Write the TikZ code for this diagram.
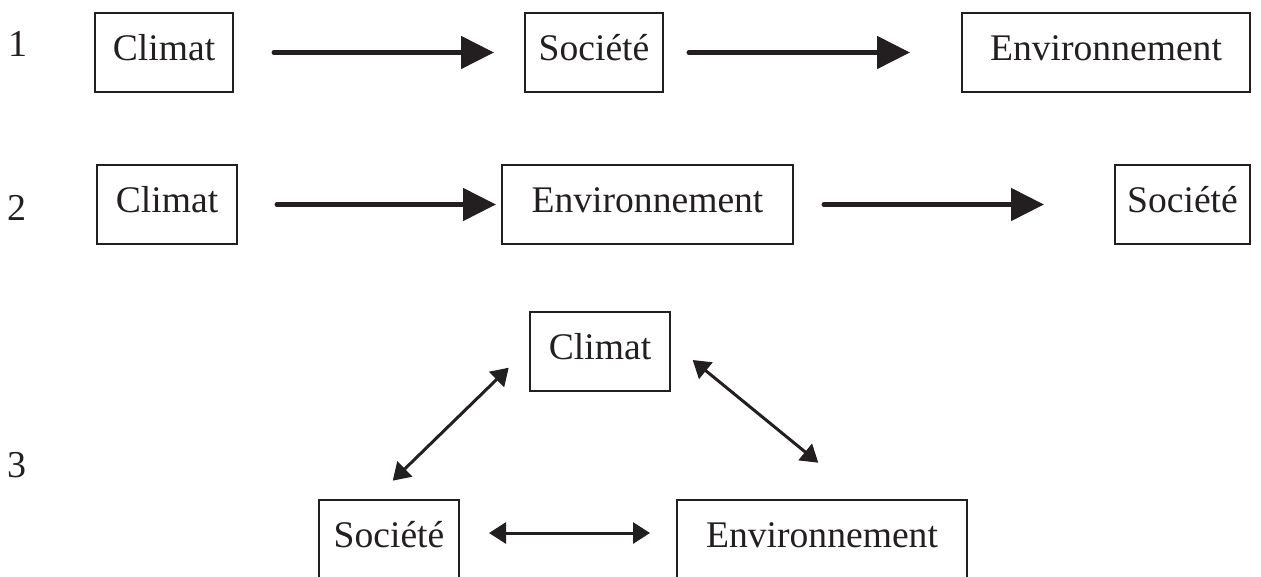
\documentclass[tikz,border=0pt]{standalone}
\usepackage{fontspec}
\setmainfont{Liberation Serif}
\usetikzlibrary{arrows.meta}
\definecolor{ink}{HTML}{231F20}
\begin{document}
\begin{tikzpicture}[x=0.5pt,y=-0.5pt,ink,
        main node/.style={draw,line width=1pt,minimum height=39.5pt,text height=13pt,text depth=5pt,inner sep=0pt,font=\fontsize{18.8}{22}\selectfont},
        row label/.style={font=\fontsize{19}{22}\selectfont},
        big arrow/.style={line width=2.5pt,line cap=round,-{Triangle[length=16.5pt,width=16pt]}},
        small arrow/.style={line width=1.5pt,{Triangle[length=8.5pt,width=10.5pt]}-{Triangle[length=8.5pt,width=10.5pt]}}]
        \useasboundingbox (0,0) rectangle (1261,577);
        \clip (0,0) rectangle (1261,577);

        \node[row label] at (18, 44) (l1) {1};
        \node[row label] at (17, 208) (l2) {2};
        \node[row label] at (17, 465) (l3) {3};

        % 1
        \node[main node,minimum width=69pt] at (164, 52.5) (c1) {Climat};
        \node[main node,minimum width=69pt] at (594, 52.5) (s1) {Société};
        \node[main node,minimum width=144pt] at (1106, 52.5) (e1) {Environnement};

        % 2
        \node[main node,minimum width=70pt] at (167, 204.5) (c2) {Climat};
        \node[main node,minimum width=145.5pt] at (647.5, 204.5) (e2) {Environnement};
        \node[main node,minimum width=67.5pt] at (1182.5, 204.5) (s2) {Société};

        % 3
        \node[main node,minimum width=70pt] at (600, 351) (c3) {Climat};
        \node[main node,minimum width=70pt] at (389, 539) (s3) {Société};
        \node[main node,minimum width=145pt] at (822, 539) (e3) {Environnement};
        \coordinate (p1) at (392.7, 480.7);
        \coordinate (p2) at (508.7, 367.7);
        \coordinate (p3) at (692.7, 360);
        \coordinate (p4) at (818.3, 462.7);

        \path
            (c1) edge[big arrow,shorten <=20pt,shorten >=15pt] (s1)
            (s1) edge[big arrow,shorten <=12.5pt,shorten >=25.5pt] (e1)
            (c2) edge[big arrow,shorten <=19.5pt,shorten >=2.5pt] (e2)
            (e2) edge[big arrow,shorten <=15pt,shorten >=35pt] (s2)
            (p1) edge[small arrow] (p2)
            (p3) edge[small arrow] (p4)
            ([yshift=3pt]s3.east) edge[small arrow,shorten <=14.5pt,shorten >=13pt] ([yshift=3pt]e3.west)
            ;
    \end{tikzpicture}
\end{document}
